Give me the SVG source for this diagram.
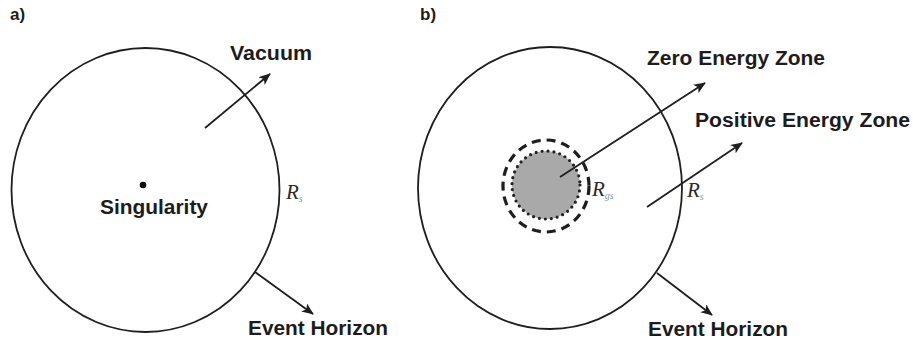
<svg xmlns="http://www.w3.org/2000/svg" width="914" height="349" viewBox="0 0 914 349">
<style>
.lbl{font-family:"Liberation Sans",Arial,sans-serif;font-weight:bold;font-size:20px;fill:#1c1c1c}
.pl{font-family:"Liberation Sans",Arial,sans-serif;font-weight:bold;font-size:17px;fill:#1c1c1c}
.r{font-family:"Liberation Serif","Times New Roman",serif;font-style:italic;font-size:21px;fill:#2a2a2a}
.sub{font-family:"Liberation Serif","Times New Roman",serif;font-style:italic;font-size:10px;fill:#7a9bb0}
.ring{fill:none;stroke:#1e1e1e;stroke-width:1.8}
.arr{stroke:#1e1e1e;stroke-width:1.8;fill:none;marker-end:url(#ah)}
</style>
<defs>
<marker id="ah" viewBox="0 0 12 10" refX="11" refY="5" markerWidth="12" markerHeight="10" markerUnits="userSpaceOnUse" orient="auto">
<path d="M0,0 L12,5 L0,10 L3,5 Z" fill="#1e1e1e"/>
</marker>
</defs>
<rect width="914" height="349" fill="#ffffff"/>
<text class="pl" x="10" y="20">a)</text>
<text class="pl" x="420" y="20">b)</text>
<g id="horizon-a">
<ellipse class="ring" cx="145.5" cy="190" rx="134" ry="142"/>
<text class="r" x="286" y="199">R<tspan class="sub" dy="3">s</tspan></text>
</g>
<g id="singularity">
<circle cx="143" cy="185" r="3.3" fill="#111"/>
<text class="lbl" x="100" y="214" textLength="108" lengthAdjust="spacingAndGlyphs">Singularity</text>
</g>
<g id="vacuum"><text class="lbl" x="230" y="60" textLength="82" lengthAdjust="spacingAndGlyphs">Vacuum</text></g>
<g id="event-horizon-a"><text class="lbl" x="248" y="335" textLength="140" lengthAdjust="spacingAndGlyphs">Event Horizon</text></g>
<g id="horizon-b">
<ellipse class="ring" cx="550" cy="188" rx="132" ry="141"/>
<text class="r" x="687" y="197">R<tspan class="sub" dy="3">s</tspan></text>
</g>
<g id="core">
<circle cx="546" cy="185" r="34" fill="#a9a9a9" stroke="#222" stroke-width="3.2" stroke-dasharray="0 6" stroke-linecap="round"/>
<ellipse cx="546" cy="186" rx="43" ry="46" fill="none" stroke="#1e1e1e" stroke-width="3.2" stroke-dasharray="9 6"/>
<text class="r" x="592" y="196">R<tspan class="sub" dy="3">gs</tspan></text>
</g>
<g id="zero-zone"><text class="lbl" x="647" y="65" textLength="178" lengthAdjust="spacingAndGlyphs">Zero Energy Zone</text></g>
<g id="positive-zone"><text class="lbl" x="695" y="127" textLength="215" lengthAdjust="spacingAndGlyphs">Positive Energy Zone</text></g>
<g id="event-horizon-b"><text class="lbl" x="648" y="336" textLength="140" lengthAdjust="spacingAndGlyphs">Event Horizon</text></g>
<g id="connectors">
<line class="arr" x1="205" y1="128" x2="270" y2="74"/>
<line class="arr" x1="255" y1="272" x2="313" y2="314"/>
<line class="arr" x1="560" y1="177" x2="705" y2="83"/>
<line class="arr" x1="647" y1="207" x2="742" y2="143"/>
<line class="arr" x1="657" y1="273" x2="712" y2="315"/>
</g>
</svg>
